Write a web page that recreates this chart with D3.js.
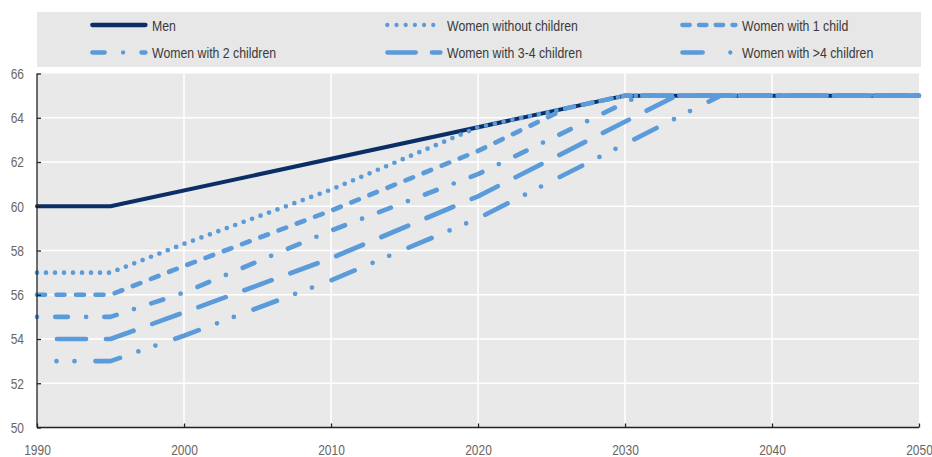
<!DOCTYPE html>
<html>
<head>
<meta charset="utf-8">
<script src="https://cdn.jsdelivr.net/npm/d3@7"></script>
<style>
  html, body { margin: 0; padding: 0; background: #ffffff; }
  svg { display: block; }
  text { font-family: "Liberation Sans", Arial, sans-serif; }
</style>
</head>
<body>
<svg id="chart" width="932" height="457"></svg>
<script>
// ---- Data ----
const seriesNames = ["Men", "Women without children", "Women with 1 child",
                     "Women with 2 children", "Women with 3-4 children", "Women with >4 children"];

const menYears        = [1990, 1995, 2030, 2050];
const menAge          = [60, 60, 65, 65];
const noChildYears    = [1990, 1995, 2000, 2010, 2020, 2030, 2050];
const noChildAge      = [57, 57, 58.3, 60.75, 63.57, 65, 65];
const oneChildYears   = [1990, 1995, 2000, 2010, 2020, 2026, 2030, 2050];
const oneChildAge     = [56, 56, 57.3, 59.8, 62.5, 64.43, 65, 65];
const twoChildYears   = [1990, 1995, 2000, 2010, 2020, 2031, 2050];
const twoChildAge     = [55, 55, 56.1, 58.9, 61.45, 65, 65];
const threeFourYears  = [1990, 1995, 2000, 2010, 2020, 2033.5, 2050];
const threeFourAge    = [54, 54, 55.2, 57.65, 60.45, 65, 65];
const fivePlusYears   = [1990, 1995, 2000, 2010, 2020, 2036.5, 2050];
const fivePlusAge     = [53, 53, 54.15, 56.65, 59.45, 65, 65];

const xTicks = [1990, 2000, 2010, 2020, 2030, 2040, 2050];
const yTicks = [50, 52, 54, 56, 58, 60, 62, 64, 66];

// ---- Styles ----
const navy = "#0b2e67";
const blue = "#5b9bd9";
const narrow = 0.82;
const tickNarrow = 0.8;
const styles = [
  { color: navy, width: 4, dash: null, offset: 0, legendDash: null },
  { color: blue, width: 4.7, dash: "0 9", offset: 0, legendDash: "0 9.2" },
  { color: blue, width: 4.7, dash: "8 11.5", offset: 0, legendDash: "7.5 9.2" },
  { color: blue, width: 4.7, dash: "0 18.3 12.5 18.3", offset: 0, legendDash: "12.5 18.3 0 18.3" },
  { color: blue, width: 4.7, dash: "29 20", offset: 29, legendDash: "28.5 16" },
  { color: blue, width: 4.7, dash: "25 19.5 0 18 0 21", offset: 25, legendDash: "20.5 27.5 0 40" }
];

const seriesData = [
  d3.zip(menYears, menAge),
  d3.zip(noChildYears, noChildAge),
  d3.zip(oneChildYears, oneChildAge),
  d3.zip(twoChildYears, twoChildAge),
  d3.zip(threeFourYears, threeFourAge),
  d3.zip(fivePlusYears, fivePlusAge)
];

// ---- Layout ----
const svg = d3.select("#chart");
const plot = { left: 37, right: 919, top: 73.5, bottom: 427.5 };

const x = d3.scaleLinear().domain([1990, 2050]).range([plot.left, plot.right]);
const y = d3.scaleLinear().domain([50, 66]).range([plot.bottom, plot.top]);

// Legend background
const legendBox = { left: 37, right: 921, top: 12, bottom: 67 };
svg.append("rect")
  .attr("x", legendBox.left).attr("y", legendBox.top)
  .attr("width", legendBox.right - legendBox.left)
  .attr("height", legendBox.bottom - legendBox.top)
  .attr("fill", "#e7e7e7");

// Plot background
svg.append("rect")
  .attr("x", plot.left).attr("y", plot.top)
  .attr("width", plot.right - plot.left)
  .attr("height", plot.bottom - plot.top)
  .attr("fill", "#e9e9e9");

// Gridlines
const grid = svg.append("g");
grid.selectAll("line.h").data(yTicks.filter(d => d > 50 && d < 66)).join("line")
  .attr("x1", plot.left).attr("x2", plot.right)
  .attr("y1", d => y(d)).attr("y2", d => y(d))
  .attr("stroke", "#ffffff").attr("stroke-width", 1.5);
grid.selectAll("line.v").data(xTicks.filter(d => d > 1990 && d < 2050)).join("line")
  .attr("y1", plot.top).attr("y2", plot.bottom)
  .attr("x1", d => x(d)).attr("x2", d => x(d))
  .attr("stroke", "#ffffff").attr("stroke-width", 1.5);

// Lines
const line = d3.line().x(d => x(d[0])).y(d => y(d[1]));
const lines = svg.append("g");
seriesData.forEach((data, i) => {
  const s = styles[i];
  const p = lines.append("path")
    .attr("d", line(data))
    .attr("fill", "none")
    .attr("stroke", s.color)
    .attr("stroke-width", s.width)
    .attr("stroke-linecap", "round")
    .attr("stroke-linejoin", "round");
  if (s.dash) p.attr("stroke-dasharray", s.dash).attr("stroke-dashoffset", s.offset);
});

// Axes
const yAxis = d3.axisLeft(y).tickValues(yTicks).tickSize(-4).tickPadding(0).tickFormat(d3.format("d"));
const gy = svg.append("g").attr("transform", `translate(${plot.left},0)`).call(yAxis);
gy.select(".domain").attr("stroke", "#222").attr("stroke-width", 1.3).attr("d", `M0,${plot.top}V${plot.bottom}`);
gy.selectAll(".tick line").attr("stroke", "#222").attr("stroke-width", 1.3);
gy.selectAll(".tick text").attr("font-size", 15).attr("fill", "#6b6661")
  .attr("font-family", "'Liberation Sans', Arial, sans-serif")
  .attr("x", 0)
  .attr("transform", `translate(-13,0) scale(${tickNarrow},1)`);

const xAxis = d3.axisBottom(x).tickValues(xTicks).tickSize(-4).tickPadding(17).tickFormat(d3.format("d"));
const gx = svg.append("g").attr("transform", `translate(0,${plot.bottom})`).call(xAxis);
gx.select(".domain").attr("stroke", "#222").attr("stroke-width", 1.3).attr("d", `M${plot.left},0H${plot.right}`);
gx.selectAll(".tick line").attr("stroke", "#222").attr("stroke-width", 1.3);
gx.selectAll(".tick text").attr("font-size", 15).attr("fill", "#6b6661")
  .attr("font-family", "'Liberation Sans', Arial, sans-serif")
  .attr("transform", `scale(${tickNarrow},1)`);

// Legend
const legendCols = [90, 385, 680];
const legendRows = [25, 52.5];
const legend = svg.append("g");
seriesNames.forEach((name, i) => {
  const s = styles[i];
  const cx = legendCols[i % 3];
  const cy = legendRows[Math.floor(i / 3)];
  const l = legend.append("line")
    .attr("x1", cx + 2.3).attr("x2", cx + 55.5)
    .attr("y1", cy).attr("y2", cy)
    .attr("stroke", s.color)
    .attr("stroke-width", 4.3)
    .attr("stroke-linecap", "round");
  if (s.legendDash) l.attr("stroke-dasharray", s.legendDash);
  legend.append("text")
    .attr("transform", `translate(${cx + 62},${cy}) scale(${narrow},1)`)
    .attr("dy", "0.37em")
    .attr("font-size", 15)
    .attr("fill", "#3a3a3a")
    .text(name);
});
</script>
</body>
</html>
